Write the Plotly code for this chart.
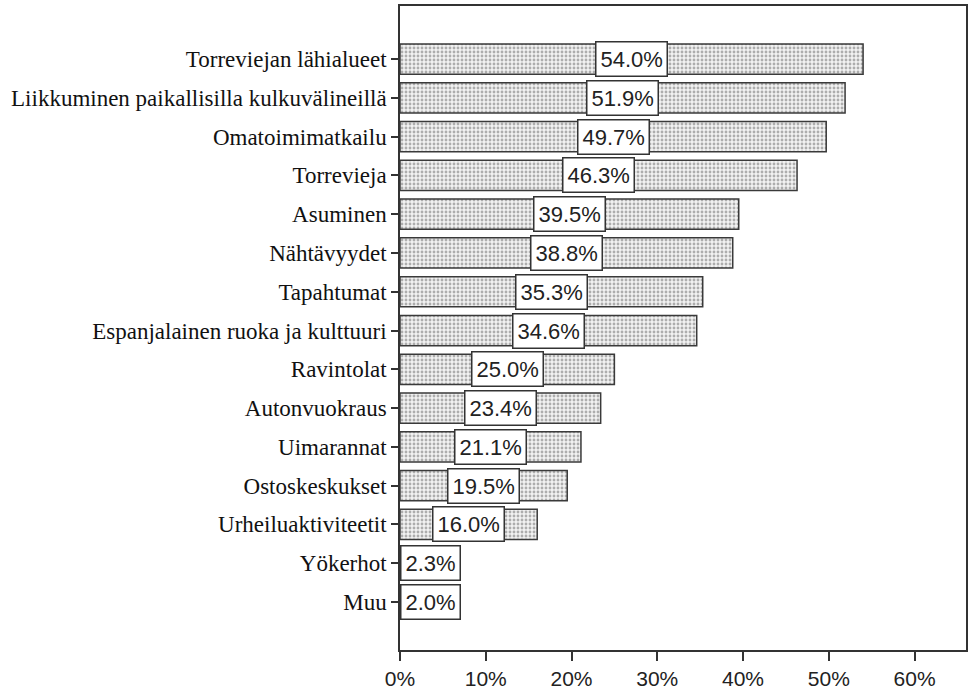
import plotly.graph_objects as go

categories = [
    "Torreviejan lähialueet",
    "Liikkuminen paikallisilla kulkuvälineillä",
    "Omatoimimatkailu",
    "Torrevieja",
    "Asuminen",
    "Nähtävyydet",
    "Tapahtumat",
    "Espanjalainen ruoka ja kulttuuri",
    "Ravintolat",
    "Autonvuokraus",
    "Uimarannat",
    "Ostoskeskukset",
    "Urheiluaktiviteetit",
    "Yökerhot",
    "Muu",
]
values = [54.0, 51.9, 49.7, 46.3, 39.5, 38.8, 35.3, 34.6, 25.0, 23.4, 21.1, 19.5, 16.0, 2.3, 2.0]
x_ticks = [0, 10, 20, 30, 40, 50, 60]

positions = list(range(len(categories)))

fig = go.Figure()
fig.add_trace(go.Bar(
    x=values,
    y=positions,
    orientation="h",
    width=0.78,
    marker=dict(
        color="#ffffff",
        line=dict(color="#3a3a3a", width=1.5),
        pattern=dict(shape=".", fgcolor="#686868", bgcolor="#f2f2f2", size=4, solidity=0.4),
    ),
    hoverinfo="skip",
    showlegend=False,
))

# boxed value labels, centred on each bar (left-aligned at the axis for short bars)
for pos, v in zip(positions, values):
    centre = v / 2
    if centre < 4:
        ax, anchor = 0, "left"
    else:
        ax, anchor = centre, "center"
    fig.add_annotation(
        x=ax, y=pos, xref="x", yref="y",
        text=f"{v:.1f}%",
        showarrow=False,
        xanchor=anchor, yanchor="middle",
        font=dict(family="Liberation Sans", size=22, color="#222222"),
        bgcolor="#ffffff",
        bordercolor="#333333",
        borderwidth=1.5,
        borderpad=4,
    )

fig.update_layout(
    width=968, height=698,
    margin=dict(l=400, r=0, t=6, b=48),
    paper_bgcolor="#ffffff",
    plot_bgcolor="#ffffff",
    bargap=0.22,
)
fig.update_xaxes(
    range=[0, 66],
    tickvals=x_ticks,
    ticktext=[f"{t}%" for t in x_ticks],
    showgrid=False, zeroline=False,
    showline=True, linecolor="#333333", linewidth=1.5, mirror=True,
    ticks="outside", ticklen=9, tickwidth=1.5, tickcolor="#333333",
    tickfont=dict(family="Liberation Sans", size=21, color="#222222"),
)
fig.update_yaxes(
    range=[15.24, -1.37],
    tickvals=positions,
    ticktext=categories,
    showgrid=False, zeroline=False,
    showline=True, linecolor="#333333", linewidth=1.5, mirror=True,
    ticks="outside", ticklen=7, tickwidth=1.5, tickcolor="#333333",
    tickfont=dict(family="Liberation Serif", size=23, color="#111111"),
)

fig.write_html("out.html")
